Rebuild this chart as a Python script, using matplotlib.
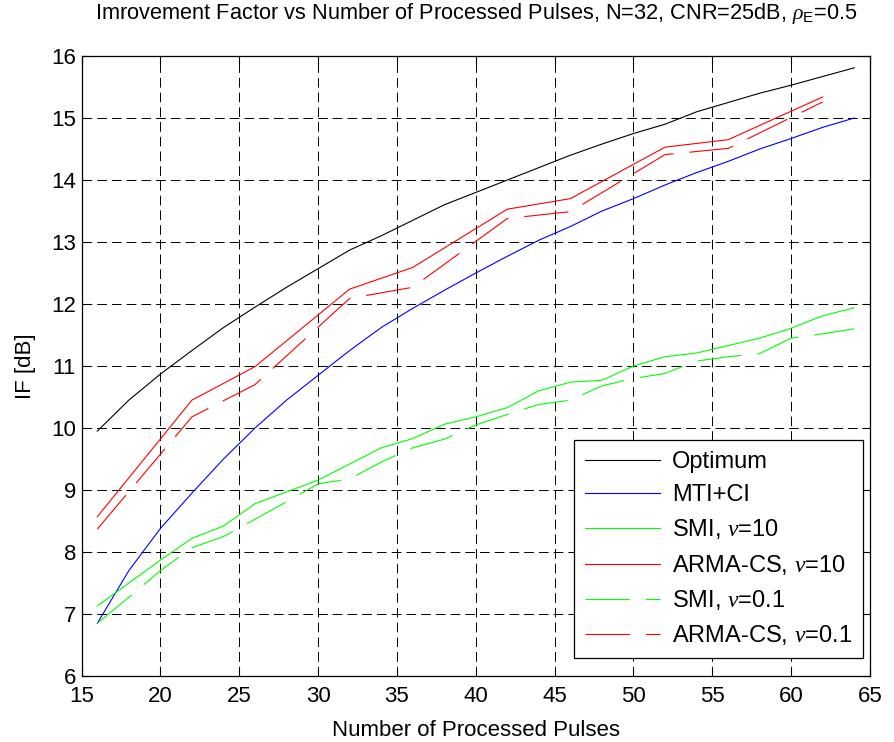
import matplotlib
matplotlib.use('Agg')
import matplotlib.pyplot as plt

# data
pulses = [16, 18, 20, 22, 24, 26, 28, 30, 32, 34, 36, 38, 40,
          42, 44, 46, 48, 50, 52, 54, 56, 58, 60, 62, 64]
optimum = [9.95, 10.45, 10.87, 11.25, 11.62, 11.95, 12.27, 12.57, 12.87, 13.10, 13.35, 13.60, 13.80,
           14.00, 14.20, 14.40, 14.58, 14.75, 14.90, 15.10, 15.25, 15.40, 15.53, 15.67, 15.81]
mti_ci = [6.85, 7.70, 8.38, 8.95, 9.50, 10.00, 10.45, 10.85, 11.25, 11.62, 11.93, 12.22, 12.50,
          12.77, 13.03, 13.25, 13.50, 13.70, 13.92, 14.12, 14.30, 14.50, 14.67, 14.85, 15.00]
smi_10 = [7.13, 7.50, 7.87, 8.22, 8.42, 8.78, 8.97, 9.16, 9.42, 9.68, 9.83, 10.06, 10.18,
          10.33, 10.60, 10.74, 10.77, 11.00, 11.15, 11.21, 11.33, 11.45, 11.61, 11.81, 11.94]
smi_01 = [6.85, 7.27, 7.70, 8.07, 8.25, 8.53, 8.81, 9.10, 9.18, 9.45, 9.68, 9.82, 10.05,
          10.22, 10.38, 10.45, 10.68, 10.80, 10.88, 11.08, 11.15, 11.20, 11.45, 11.52, 11.60]

arma_pulses = [16, 22, 26, 32, 36, 42, 46, 52, 56, 62]
arma_10 = [8.57, 10.45, 10.99, 12.24, 12.59, 13.53, 13.70, 14.53, 14.65, 15.34]
arma_01 = [8.37, 10.18, 10.70, 12.09, 12.27, 13.38, 13.49, 14.41, 14.51, 15.26]

plt.rcParams['font.family'] = ['Liberation Sans', 'DejaVu Sans']
plt.rcParams['mathtext.fontset'] = 'custom'
plt.rcParams['mathtext.rm'] = 'Liberation Sans'
plt.rcParams['mathtext.it'] = 'Liberation Serif:italic'
plt.rcParams['font.size'] = 16
plt.rcParams['lines.scale_dashes'] = False

fig = plt.figure(figsize=(8.94, 7.42), dpi=100)
ax = fig.add_axes([0.0912, 0.0889, 0.882, 0.8356])

lw = 0.8
dash = (0, (32, 11.5))
ax.plot(pulses, optimum, color='black', lw=lw, label='Optimum')
ax.plot(pulses, mti_ci, color='blue', lw=lw, label='MTI+CI')
ax.plot(pulses, smi_10, color='#00ff00', lw=lw, label=r'SMI, $\nu$=10')
ax.plot(arma_pulses, arma_10, color='red', lw=lw, label=r'ARMA-CS, $\nu$=10')
ax.plot(pulses, smi_01, color='#00ff00', lw=lw, ls=dash, label=r'SMI, $\nu$=0.1')
ax.plot(arma_pulses, arma_01, color='red', lw=lw, ls=dash, label=r'ARMA-CS, $\nu$=0.1')

ax.set_xlim(15, 65)
ax.set_ylim(6, 16)
ax.set_xticks(range(15, 66, 5))
ax.set_yticks(range(6, 17))
ax.grid(True, color='black', ls=(0, (7, 3.6)), lw=0.7)
ax.tick_params(direction='in', top=True, right=True, length=6, width=0.8)
ax.tick_params(axis='x', pad=7.5)
ax.tick_params(axis='y', pad=4)
for s in ax.spines.values():
    s.set_linewidth(0.9)

ax.set_xlabel('Number of Processed Pulses', labelpad=9)
ax.set_ylabel('IF [dB]', labelpad=11)
ax.set_title(r'Imrovement Factor vs Number of Processed Pulses, N=32, CNR=25dB, $\rho_{\rm E}$=0.5',
             fontsize=15.7, pad=27)

leg = ax.legend(loc='lower right', bbox_to_anchor=(0.991, 0.029), borderaxespad=0,
                fancybox=False, framealpha=1, edgecolor='black', fontsize=17,
                handlelength=3.2, labelspacing=0.48, handletextpad=0.5, borderpad=0.45)
leg.get_frame().set_linewidth(0.9)

fig.savefig('out.png', dpi=100)
